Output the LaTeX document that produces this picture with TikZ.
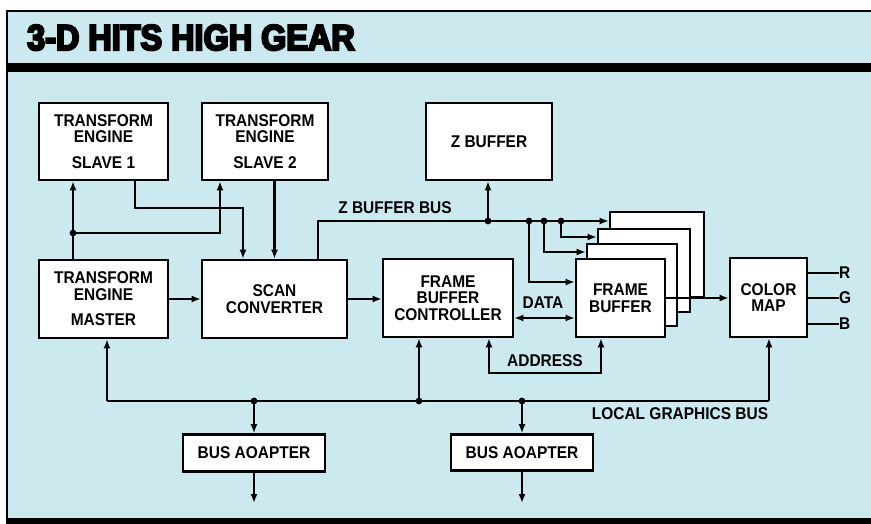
\documentclass[tikz,border=0pt]{standalone}
\usepackage{fontspec}
\setmainfont{Liberation Sans}[FakeStretch=0.91]
\newfontfamily\titlefont{Liberation Sans}[FakeStretch=0.9,FakeBold=6]
\usetikzlibrary{arrows.meta,calc}
\definecolor{paneblue}{RGB}{204,233,240}

\begin{document}
\begin{tikzpicture}[x=1pt,y=-1pt,
    unit/.style={draw,fill=white,line width=2.6pt,align=center,inner sep=0pt,
      font=\fontsize{17}{16.5}\selectfont\bfseries},
    wire/.style={line width=2.1pt},
    arr/.style={wire,-{Latex[length=9pt,width=7pt]}},
    both/.style={wire,{Latex[length=9pt,width=7pt]}-{Latex[length=9pt,width=7pt]}},
    tag/.style={font=\fontsize{17}{17}\selectfont\bfseries,inner sep=0pt}]
  \useasboundingbox (0,0) rectangle (871,524);
  % panel
  \fill[paneblue] (7,11) rectangle (871,521);
  \draw[line width=2.2pt] (871,11) -- (7,11) -- (7,521);
  \fill (7,63) rectangle (871,72);
  \fill (6,518) rectangle (871,524);
  \node[anchor=base west,inner sep=0pt,font=\titlefont\bfseries\fontsize{36}{36}\selectfont] (title) at (27,50) {3-D HITS HIGH GEAR};

  % blocks
  \node[unit,minimum width=129,minimum height=77] (slaveA) at (103.5,141.5) {TRANSFORM\\ENGINE\\[9pt]SLAVE 1};
  \node[unit,minimum width=126,minimum height=77] (slaveB) at (265,141.5) {TRANSFORM\\ENGINE\\[9pt]SLAVE 2};
  \node[unit,minimum width=129,minimum height=78] (master) at (103.5,299) {TRANSFORM\\ENGINE\\[9pt]MASTER};
  \node[unit,minimum width=145,minimum height=78] (scan) at (274.5,299) {SCAN\\CONVERTER};
  \node[unit,minimum width=126,minimum height=77] (zbuf) at (489,141.5) {Z BUFFER};
  \node[unit,minimum width=130,minimum height=78] (fbc) at (448,298) {FRAME\\BUFFER\\CONTROLLER};
  \node[unit,minimum width=94,minimum height=85] (fbD) at (657,254.5) {};
  \node[unit,minimum width=92,minimum height=83] (fbC) at (644,270.5) {};
  \node[unit,minimum width=90,minimum height=82] (fbB) at (632,285) {};
  \node[unit,minimum width=89,minimum height=78] (fb) at (620.5,298) {FRAME\\BUFFER};
  \node[unit,minimum width=77,minimum height=79] (cmap) at (768.5,297.5) {COLOR\\MAP};
  \node[unit,minimum width=142,minimum height=37] (busA) at (254,453) {BUS AOAPTER};
  \node[unit,minimum width=142,minimum height=36] (busB) at (522,452.5) {BUS AOAPTER};

  % labels
  \node[tag] (zbl) at (395,208) {Z BUFFER BUS};
  \node[tag] (datal) at (543,303) {DATA};
  \node[tag] (addrl) at (545,361) {ADDRESS};
  \node[tag] (lgbl) at (680,414) {LOCAL GRAPHICS BUS};

  % transform engines
  \coordinate (jm) at (73,233);
  \coordinate (js) at (220,233);
  \coordinate (k1) at (135,208);
  \coordinate (k2) at (243,208);
  \draw[arr] (master.north -| jm) -- (slaveA.south -| jm);
  \draw[arr] (jm) -- (js) -- (slaveB.south -| js);
  \draw[arr] (slaveA.south -| k1) -- (k1) -- (k2) -- (scan.north -| k2);
  \draw[arr] (slaveB.south -| scan.north) -- (scan.north);
  \draw[arr] (master.east) -- (scan.west |- master.east);
  \draw[arr] (scan.east) -- (fbc.west |- scan.east);

  % z buffer bus
  \coordinate (zb) at (318,221);
  \foreach \n/\x in {d1/488,d2/529,d3/544,d4/561}
    \coordinate (\n) at (\x,221);
  \coordinate (r4) at (0,237);
  \coordinate (r3) at (0,252);
  \coordinate (r2) at (0,282);
  \draw[arr] (scan.north -| zb) -- (zb) -- (fbD.west |- zb);
  \draw[arr] (d1) -- (d1 |- zbuf.south);
  \draw[arr] (d4) |- (fbC.west |- r4);
  \draw[arr] (d3) |- (fbB.west |- r3);
  \draw[arr] (d2) |- (fb.west |- r2);

  % data and address
  \coordinate (rd) at (0,318);
  \coordinate (a1) at (489,373);
  \coordinate (a2) at (601,373);
  \draw[both] (fbc.east |- rd) -- (fb.west |- rd);
  \draw[both] (fbc.south -| a1) -- (a1) -- (a2) -- (fb.south -| a2);
  \draw[arr] (fb.east) -- (cmap.west |- fb.east);
  \foreach \c/\y in {R/273,G/298,B/324}{
    \node[tag,anchor=west] (out\c) at (839,\y) {\c};
    \draw[wire] (cmap.east |- out\c) -- (out\c.west);
  }

  % local graphics bus
  \coordinate (bl) at (107,401);
  \coordinate (br) at (769,401);
  \foreach \n/\x in {b1/254,b2/419,b3/522}
    \coordinate (\n) at (\x,401);
  \coordinate (outA) at (254,503);
  \coordinate (outB) at (522,503);
  \draw[wire] (bl) -- (br);
  \draw[arr] (bl) -- (master.south -| bl);
  \draw[arr] (br) -- (cmap.south -| br);
  \draw[arr] (b2) -- (fbc.south -| b2);
  \draw[arr] (b1) -- (busA.north);
  \draw[arr] (b3) -- (busB.north);
  \draw[arr] (busA.south) -- (outA);
  \draw[arr] (busB.south) -- (outB);

  \foreach \n in {jm,d1,d2,d3,d4,b1,b2,b3}
    \fill (\n) circle (3.4pt);
\end{tikzpicture}
\end{document}
